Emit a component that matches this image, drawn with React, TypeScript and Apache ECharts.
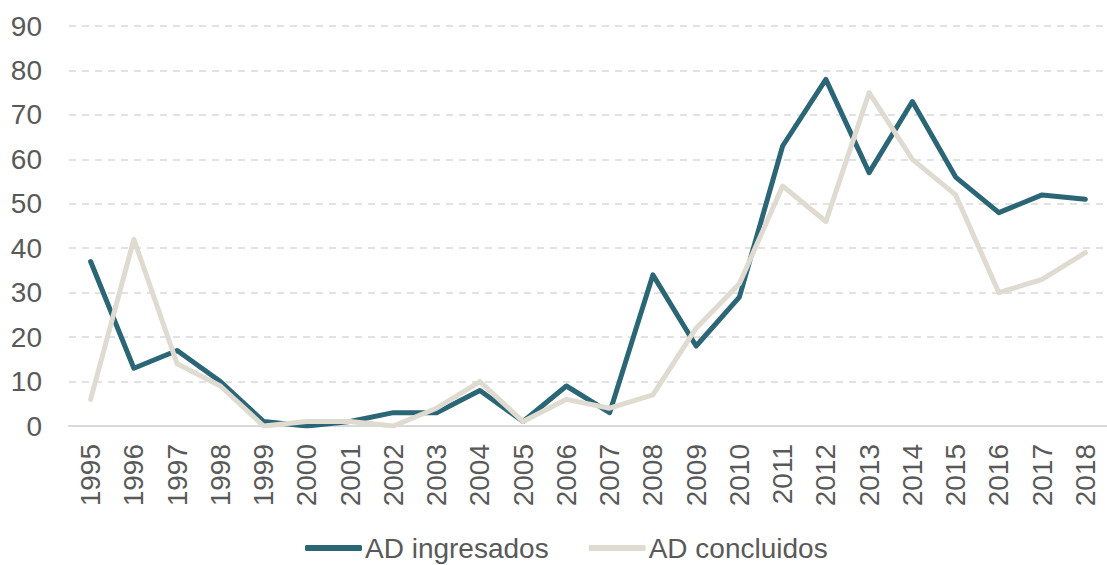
import React, { useEffect, useRef } from "react";
import * as echarts from "echarts";

const years = [
  "1995", "1996", "1997", "1998", "1999", "2000", "2001", "2002", "2003", "2004", "2005", "2006",
  "2007", "2008", "2009", "2010", "2011", "2012", "2013", "2014", "2015", "2016", "2017", "2018",
];
const ingresados = [37, 13, 17, 10, 1, 0, 1, 3, 3, 8, 1, 9, 3, 34, 18, 29, 63, 78, 57, 73, 56, 48, 52, 51];
const concluidos = [6, 42, 14, 9, 0, 1, 1, 0, 4, 10, 1, 6, 4, 7, 22, 32, 54, 46, 75, 60, 52, 30, 33, 39];
const seriesNames = ["AD ingresados", "AD concluidos"];
const colors = ["#2B6676", "#DFDBD1"];

export default function App() {
  const ref = useRef<HTMLDivElement>(null);
  useEffect(() => {
    if (!ref.current) return;
    const chart = echarts.init(ref.current, null, { renderer: "svg" });
    const font = "Liberation Sans, Arial, sans-serif";
    chart.setOption({
      animation: false,
      grid: { left: 69, right: -8, top: 26, bottom: 139, containLabel: false },
      legend: {
        left: 300,
        top: 534,
        padding: [0, 5, 0, 5],
        itemWidth: 57,
        itemHeight: 6,
        itemGap: 40,
        icon: "roundRect",
        textStyle: {
          fontSize: 28,
          lineHeight: 28,
          color: "#595959",
          fontFamily: font,
          padding: [0, 0, 0, -2],
        },
        data: seriesNames,
      },
      xAxis: {
        type: "category",
        data: years,
        boundaryGap: true,
        axisLine: { show: true, lineStyle: { color: "#D9D9D9", width: 2 } },
        axisTick: { show: false },
        axisLabel: {
          rotate: 90,
          margin: 18,
          fontSize: 28,
          color: "#595959",
          fontFamily: font,
          interval: 0,
        },
      },
      yAxis: {
        type: "value",
        min: 0,
        max: 90,
        interval: 10,
        axisLine: { show: false },
        axisTick: { show: false },
        axisLabel: { fontSize: 28, color: "#595959", fontFamily: font, margin: 27 },
        splitLine: {
          show: true,
          lineStyle: { color: "#D9D9D9", width: 1.5, type: [7, 6] },
        },
      },
      series: [
        {
          name: seriesNames[0],
          type: "line",
          data: ingresados,
          symbol: "none",
          color: colors[0],
          lineStyle: { color: colors[0], width: 5, cap: "round", join: "round" },
        },
        {
          name: seriesNames[1],
          type: "line",
          data: concluidos,
          symbol: "none",
          color: colors[1],
          lineStyle: { color: colors[1], width: 5, cap: "round", join: "round" },
        },
      ],
    });
    return () => chart.dispose();
  }, []);
  return (
    <div
      ref={ref}
      style={{ position: "absolute", left: 0, top: 0, width: 1107, height: 565, background: "#fff" }}
    />
  );
}
